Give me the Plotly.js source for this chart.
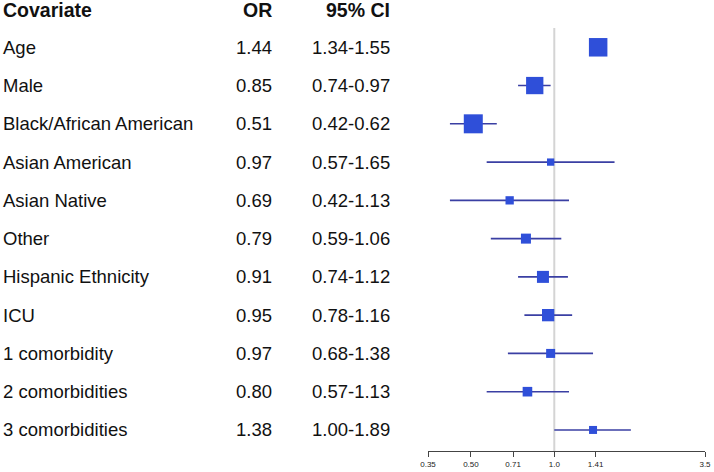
<!DOCTYPE html>
<html>
<head>
<meta charset="utf-8">
<script src="https://cdn.plot.ly/plotly-3.0.1.min.js"></script>
<style>html,body{margin:0;padding:0;background:#fff;}#chart{width:714px;height:472px;}</style>
</head>
<body>
<div id="chart"></div>
<script>
// ---- data ----
var covariates = ["Age","Male","Black/African American","Asian American","Asian Native","Other","Hispanic Ethnicity","ICU","1 comorbidity","2 comorbidities","3 comorbidities"];
var orValues   = [1.44, 0.85, 0.51, 0.97, 0.69, 0.79, 0.91, 0.95, 0.97, 0.80, 1.38];
var ciLow      = [1.34, 0.74, 0.42, 0.57, 0.42, 0.59, 0.74, 0.78, 0.68, 0.57, 1.00];
var ciHigh     = [1.55, 0.97, 0.62, 1.65, 1.13, 1.06, 1.12, 1.16, 1.38, 1.13, 1.89];
var boxWeight  = [18.5, 17.3, 19, 7.3, 8.3, 10, 12, 12.3, 9, 9.6, 8];   // relative box sizes as drawn
var tickValues = [0.35, 0.50, 0.71, 1.0, 1.41, 3.5];
var tickLabels = ["0.35","0.50","0.71","1.0","1.41","3.5"];
var headers    = ["Covariate","OR","95% CI"];

var W = 714;
var rows = covariates.map(function(_, i){ return i; });
var fontFam = "Liberation Sans, Arial, Helvetica, sans-serif";

var trace = {
  type: "scatter",
  mode: "markers",
  x: orValues,
  y: rows,
  marker: {symbol: "square", size: boxWeight, color: "#2f4fd9", opacity: 1, line: {width: 0}},
  opacity: 1,
  error_x: {
    type: "data", symmetric: false,
    array: orValues.map(function(v,i){ return ciHigh[i] - v; }),
    arrayminus: orValues.map(function(v,i){ return v - ciLow[i]; }),
    color: "#3a3fa3", thickness: 1.6, width: 0
  },
  hoverinfo: "skip",
  showlegend: false,
  cliponaxis: false
};

var annotations = [];
var txtFont = {family: fontFam, size: 18.5, color: "#111"};
covariates.forEach(function(c, i){
  annotations.push({xref:"paper", yref:"y", x: 1/W, y: i, text: c, showarrow:false, xanchor:"left", yanchor:"middle", font: txtFont});
  annotations.push({xref:"paper", yref:"y", x: 274/W, y: i, text: orValues[i].toFixed(2), showarrow:false, xanchor:"right", yanchor:"middle", font: txtFont});
  annotations.push({xref:"paper", yref:"y", x: 392/W, y: i, text: ciLow[i].toFixed(2) + "-" + ciHigh[i].toFixed(2), showarrow:false, xanchor:"right", yanchor:"middle", font: txtFont});
});
var hdrFont = {family: fontFam, size: 19.5, color: "#111", weight: "bold"};
var hdrX = [1/W, 274/W, 392/W];
var hdrAnchor = ["left","right","right"];
headers.forEach(function(h, k){
  annotations.push({xref:"paper", yref:"paper", x: hdrX[k], y: (451-10)/423, text: h, showarrow:false, xanchor: hdrAnchor[k], yanchor:"middle", font: hdrFont});
});

var layout = {
  width: 714, height: 472,
  margin: {l: 0, r: 0, t: 28, b: 21, pad: 0},
  paper_bgcolor: "#fff", plot_bgcolor: "#fff",
  xaxis: {
    type: "log", domain: [428/W, 705/W],
    range: [Math.log10(0.35), Math.log10(3.5)],
    tickvals: tickValues, ticktext: tickLabels,
    showgrid: false, zeroline: false,
    showline: true, linecolor: "#444", linewidth: 1,
    ticks: "outside", ticklen: 5, tickcolor: "#444", tickwidth: 1,
    tickfont: {family: fontFam, size: 8, color: "#222"}
  },
  yaxis: {range: [10.55, -0.504], visible: false, showgrid: false, zeroline: false, fixedrange: true},
  shapes: [{type: "line", xref: "x", yref: "paper", x0: 1, x1: 1, y0: 0, y1: 1, layer: "below", line: {color: "#d4d4d4", width: 2}}],
  annotations: annotations
};

Plotly.newPlot("chart", [trace], layout, {displayModeBar: false, staticPlot: true});
</script>
</body>
</html>
